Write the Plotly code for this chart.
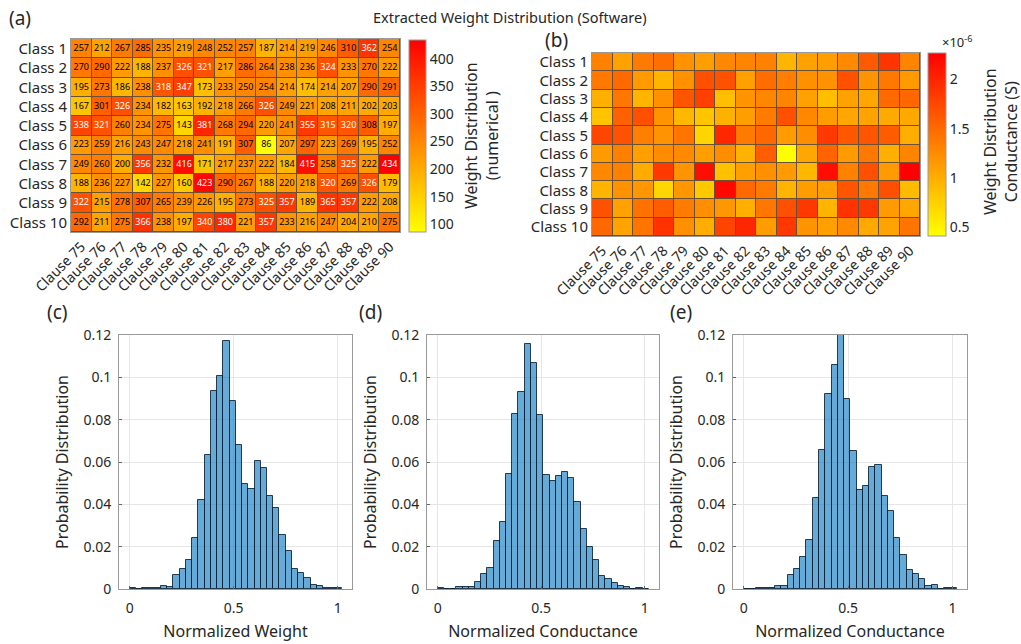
import numpy as np
import plotly.graph_objects as go

classes = [f"Class {i}" for i in range(1, 11)]
clauses = [f"Clause {i}" for i in range(75, 91)]

weights = [
    [257, 212, 267, 285, 235, 219, 248, 252, 257, 187, 214, 219, 246, 310, 362, 254],
    [270, 290, 222, 188, 237, 326, 321, 217, 286, 264, 238, 236, 324, 233, 270, 222],
    [195, 273, 186, 238, 318, 347, 173, 233, 250, 254, 214, 174, 214, 207, 290, 291],
    [167, 301, 326, 234, 182, 163, 192, 218, 266, 326, 249, 221, 208, 211, 202, 203],
    [338, 321, 260, 234, 275, 143, 381, 268, 294, 220, 241, 355, 315, 320, 308, 197],
    [223, 259, 216, 243, 247, 218, 241, 191, 307, 86, 207, 297, 223, 269, 195, 252],
    [249, 260, 200, 356, 232, 416, 171, 217, 237, 222, 184, 415, 258, 325, 222, 434],
    [188, 236, 227, 142, 227, 160, 423, 290, 267, 188, 220, 218, 320, 269, 326, 179],
    [322, 215, 278, 307, 265, 239, 226, 195, 273, 325, 357, 189, 365, 357, 222, 208],
    [292, 211, 275, 366, 238, 197, 340, 380, 221, 357, 233, 216, 247, 204, 210, 275],
]

# conductance in micro-siemens (x1e-6 S)
conductance_uS = [
    [1.33, 1.09, 1.38, 1.47, 1.21, 1.12, 1.28, 1.30, 1.33, 0.95, 1.10, 1.12, 1.27, 1.61, 1.88, 1.31],
    [1.39, 1.50, 1.14, 0.96, 1.22, 1.69, 1.67, 1.11, 1.48, 1.36, 1.22, 1.21, 1.68, 1.20, 1.39, 1.14],
    [1.00, 1.41, 0.95, 1.22, 1.65, 1.80, 0.88, 1.20, 1.29, 1.31, 1.10, 0.88, 1.10, 1.06, 1.50, 1.51],
    [0.85, 1.56, 1.69, 1.20, 0.93, 0.83, 0.98, 1.12, 1.37, 1.69, 1.28, 1.13, 1.06, 1.08, 1.03, 1.04],
    [1.76, 1.67, 1.34, 1.20, 1.42, 0.72, 1.98, 1.38, 1.52, 1.13, 1.24, 1.85, 1.63, 1.66, 1.60, 1.01],
    [1.14, 1.34, 1.11, 1.25, 1.27, 1.12, 1.24, 0.97, 1.59, 0.42, 1.06, 1.54, 1.14, 1.39, 1.00, 1.30],
    [1.28, 1.34, 1.02, 1.85, 1.19, 2.17, 0.87, 1.11, 1.22, 1.14, 0.94, 2.17, 1.33, 1.69, 1.14, 2.27],
    [0.96, 1.21, 1.17, 0.71, 1.17, 0.81, 2.21, 1.50, 1.38, 0.96, 1.13, 1.12, 1.66, 1.39, 1.69, 0.91],
    [1.67, 1.10, 1.44, 1.59, 1.37, 1.23, 1.16, 1.00, 1.41, 1.69, 1.86, 0.96, 1.90, 1.86, 1.14, 1.06],
    [1.51, 1.08, 1.42, 1.90, 1.22, 1.01, 1.77, 1.98, 1.13, 1.86, 1.20, 1.11, 1.27, 1.04, 1.08, 1.42],
]

bin_width = 0.03
hist_weight = [0.0003, 0.0, 0.0003, 0.0003, 0.0003, 0.0013, 0.0010, 0.0066, 0.0093, 0.0135,
               0.0240, 0.0420, 0.0633, 0.0937, 0.1005, 0.1173, 0.0888, 0.0682, 0.0494, 0.0471,
               0.0605, 0.0570, 0.0438, 0.0383, 0.0254, 0.0178, 0.0093, 0.0077, 0.0050, 0.0017,
               0.0014, 0.0003, 0.0003, 0.0005]
hist_cond_d = [0.0003, 0.0002, 0.0002, 0.0008, 0.0008, 0.0009, 0.0035, 0.0069, 0.0098, 0.0225,
               0.0316, 0.0542, 0.0827, 0.0930, 0.1159, 0.1070, 0.0824, 0.0539, 0.0510, 0.0532,
               0.0551, 0.0523, 0.0409, 0.0282, 0.0198, 0.0135, 0.0061, 0.0046, 0.0028, 0.0014,
               0.0008, 0.0002, 0.0005, 0.0002]
hist_cond_e = [0.0002, 0.0001, 0.0003, 0.0003, 0.0003, 0.0013, 0.0013, 0.0066, 0.0093, 0.0151,
               0.0230, 0.0428, 0.0657, 0.0920, 0.1058, 0.1215, 0.0896, 0.0650, 0.0466, 0.0485,
               0.0576, 0.0584, 0.0439, 0.0369, 0.0239, 0.0159, 0.0090, 0.0069, 0.0047, 0.0014,
               0.0017, 0.0002, 0.0003, 0.0003]
bin_centers = np.arange(len(hist_weight)) * bin_width + bin_width / 2

W, H = 1021, 644
FONT = "Noto Sans"
TXT = "#262626"


def px(x):
    return x / W


def py(y):
    return 1 - y / H


fig = go.Figure()

# ---------- heatmap (a) ----------
fig.add_trace(go.Heatmap(
    z=weights, x=clauses, y=classes, xaxis="x", yaxis="y",
    colorscale=[[0, "#ffff00"], [1, "#ff0000"]], zmin=86, zmax=434,
    xgap=1, ygap=1, hoverinfo="skip",
    colorbar=dict(x=px(409), xanchor="left", xpad=0, ypad=0, y=py(136), yanchor="middle",
                  len=192 / H, lenmode="fraction", thickness=17,
                  outlinecolor="#999", outlinewidth=1,
                  tickvals=[100, 150, 200, 250, 300, 350, 400],
                  ticks="", tickfont=dict(size=14, color=TXT, family=FONT)),
))
tx, ty, tt, tc = [], [], [], []
for i, row in enumerate(weights):
    for j, v in enumerate(row):
        tx.append(clauses[j]); ty.append(classes[i]); tt.append(str(v))
        tc.append("white" if v > 312 else "black")
fig.add_trace(go.Scatter(x=tx, y=ty, text=tt, mode="text", xaxis="x", yaxis="y",
                         textfont=dict(size=9, color=tc, family=FONT),
                         hoverinfo="skip", showlegend=False))

# ---------- heatmap (b) ----------
fig.add_trace(go.Heatmap(
    z=(np.array(conductance_uS) * 1e-6).tolist(), x=clauses, y=classes, xaxis="x2", yaxis="y2",
    colorscale=[[0, "#ffff00"], [1, "#ff0000"]], zmin=0.416e-6, zmax=2.266e-6,
    xgap=1, ygap=1, hoverinfo="skip",
    colorbar=dict(x=px(928), xanchor="left", xpad=0, ypad=0, y=py(144.4), yanchor="middle",
                  len=183.3 / H, lenmode="fraction", thickness=18,
                  outlinecolor="#999", outlinewidth=1,
                  tickvals=[0.5e-6, 1e-6, 1.5e-6, 2e-6], ticktext=["0.5", "1", "1.5", "2"],
                  ticks="", tickfont=dict(size=14, color=TXT, family=FONT)),
))

# ---------- histograms ----------
bar_style = dict(marker=dict(color="rgba(0,114,189,0.6)", line=dict(color="rgba(10,30,50,0.85)", width=1)),
                 width=bin_width, hoverinfo="skip", showlegend=False)
fig.add_trace(go.Bar(x=bin_centers, y=hist_weight, xaxis="x3", yaxis="y3", **bar_style))
fig.add_trace(go.Bar(x=bin_centers, y=hist_cond_d, xaxis="x4", yaxis="y4", **bar_style))
fig.add_trace(go.Bar(x=bin_centers, y=hist_cond_e, xaxis="x5", yaxis="y5", **bar_style))

heat_x = dict(tickangle=-45, tickfont=dict(size=14, color=TXT, family=FONT), ticks="",
              range=[-0.5, 15.5], automargin=False,
              showline=True, mirror=True, linecolor="#999", linewidth=1, showgrid=False)
heat_y = dict(range=[9.5, -0.5], tickfont=dict(size=15, color=TXT, family=FONT), ticks="",
              automargin=False,
              showline=True, mirror=True, linecolor="#999", linewidth=1, showgrid=False)

hist_x = dict(range=[-0.052, 1.069], tickvals=[0, 0.5, 1], ticktext=["0", "0.5", "1"],
              ticks="inside", ticklen=3, tickcolor="#666", ticklabelstandoff=6, automargin=False,
              tickfont=dict(size=14, color=TXT, family=FONT),
              showgrid=True, gridcolor="#e6e6e6", zeroline=False,
              showline=True, mirror=True, linecolor="#999", linewidth=1)
hist_y = dict(range=[0, 0.12], tickvals=[0, 0.02, 0.04, 0.06, 0.08, 0.1, 0.12],
              ticktext=["0", "0.02", "0.04", "0.06", "0.08", "0.1", "0.12"],
              ticks="inside", ticklen=3, tickcolor="#666", ticklabelstandoff=4, automargin=False,
              tickfont=dict(size=14, color=TXT, family=FONT),
              showgrid=True, gridcolor="#e6e6e6", zeroline=False,
              showline=True, mirror=True, linecolor="#999", linewidth=1)

xt = lambda s: dict(text=s, font=dict(size=16, color=TXT, family=FONT), standoff=10)
yt = dict(text="Probability Distribution", font=dict(size=16, color=TXT, family=FONT), standoff=10)

fig.update_layout(
    width=W, height=H, margin=dict(l=0, r=0, t=0, b=0, autoexpand=False),
    paper_bgcolor="white", plot_bgcolor="white", showlegend=False, bargap=0,
    font=dict(family=FONT, color=TXT),
    xaxis=dict(domain=[px(71), px(400)], anchor="y", **heat_x),
    yaxis=dict(domain=[py(232), py(39)], anchor="x", **heat_y),
    xaxis2=dict(domain=[px(592), px(920)], anchor="y2", **heat_x),
    yaxis2=dict(domain=[py(236), py(53)], anchor="x2", **heat_y),
    xaxis3=dict(domain=[px(119), px(352)], anchor="y3", title=xt("Normalized Weight"), **hist_x),
    yaxis3=dict(domain=[py(589), py(335)], anchor="x3", title=yt, **hist_y),
    xaxis4=dict(domain=[px(427), px(659)], anchor="y4", title=xt("Normalized Conductance"), **hist_x),
    yaxis4=dict(domain=[py(589), py(335)], anchor="x4", title=yt, **hist_y),
    xaxis5=dict(domain=[px(733), px(967)], anchor="y5", title=xt("Normalized Conductance"), **hist_x),
    yaxis5=dict(domain=[py(589), py(335)], anchor="x5", title=yt, **hist_y),
)

# dark background behind heatmaps so the 1px gaps look like cell borders
for xr, yr in [("x domain", "y domain"), ("x2 domain", "y2 domain")]:
    fig.add_shape(type="rect", xref=xr, yref=yr, x0=0, x1=1, y0=0, y1=1,
                  fillcolor="#6b5036", line=dict(width=0), layer="below")

ann = [
    dict(text="Extracted Weight Distribution (Software)", x=px(510), y=py(17), size=14.5),
    dict(text="(a)", x=px(20), y=py(18), size=19),
    dict(text="(b)", x=px(556), y=py(40), size=19),
    dict(text="(c)", x=px(57), y=py(312), size=19),
    dict(text="(d)", x=px(370), y=py(312), size=19),
    dict(text="(e)", x=px(681), y=py(312), size=19),
    dict(text="×10<sup>-6</sup>", x=px(957), y=py(42), size=13),
]
for a in ann:
    fig.add_annotation(text=a["text"], x=a["x"], y=a["y"], xref="paper", yref="paper",
                       showarrow=False, xanchor="center", yanchor="middle",
                       font=dict(size=a["size"], color=TXT, family=FONT))

fig.add_annotation(text="Weight Distribution<br>(numerical )", x=px(482), y=py(136),
                   xref="paper", yref="paper", showarrow=False, textangle=-90,
                   xanchor="center", yanchor="middle",
                   font=dict(size=16, color=TXT, family=FONT))
fig.add_annotation(text="Weight Distribution<br>Conductance (S)", x=px(1000), y=py(142),
                   xref="paper", yref="paper", showarrow=False, textangle=-90,
                   xanchor="center", yanchor="middle",
                   font=dict(size=16, color=TXT, family=FONT))

fig.write_html("out.html")
